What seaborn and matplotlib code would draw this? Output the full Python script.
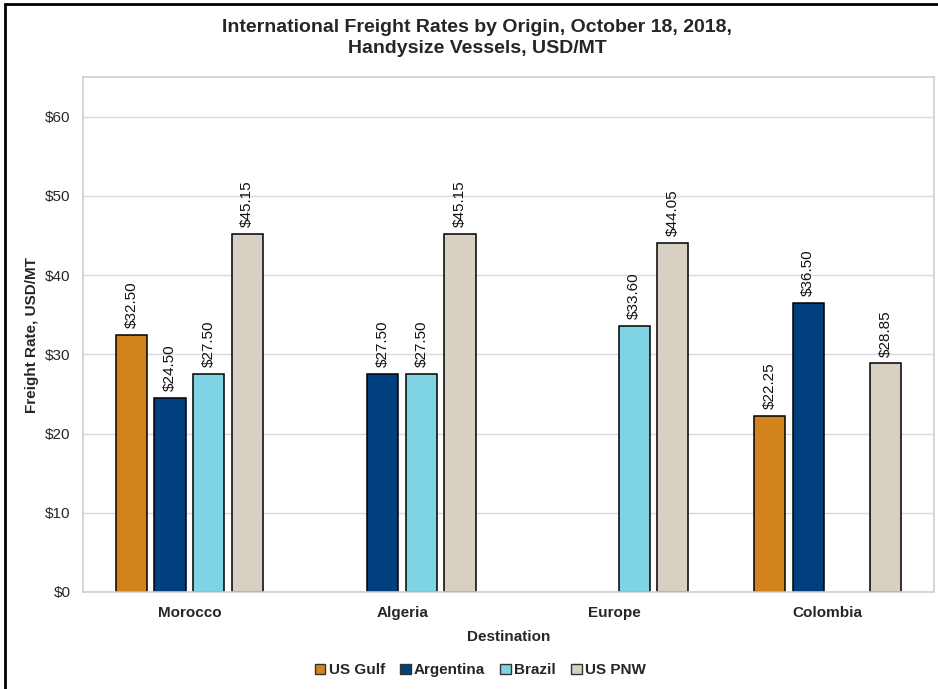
import numpy as np
import pandas as pd
import seaborn as sns
import matplotlib.pyplot as plt
from matplotlib.lines import Line2D

destinations = ["Morocco", "Algeria", "Europe", "Colombia"]
origins = ["US Gulf", "Argentina", "Brazil", "US PNW"]
us_gulf = [32.50, np.nan, np.nan, 22.25]
argentina = [24.50, 27.50, np.nan, 36.50]
brazil = [27.50, 27.50, 33.60, np.nan]
us_pnw = [45.15, 45.15, 44.05, 28.85]
colors = ["#D3831D", "#00407F", "#7ED3E4", "#D8D0C2"]

rows = []
for origin, vals in zip(origins, [us_gulf, argentina, brazil, us_pnw]):
    for dest, v in zip(destinations, vals):
        rows.append({"Destination": dest, "Origin": origin, "Rate": v})
df = pd.DataFrame(rows)

sns.set_style("white")
plt.rcParams["font.family"] = ["Liberation Sans", "DejaVu Sans"]

fig = plt.figure(figsize=(9.38, 6.89), dpi=100)
ax = fig.add_axes([0.0885, 0.1408, 0.9072, 0.7472])

sns.barplot(data=df, x="Destination", y="Rate", hue="Origin", order=destinations,
            hue_order=origins, palette=colors, saturation=1, width=0.725, gap=0.19,
            edgecolor="black", linewidth=1.1, ax=ax, legend=True)

for cont in ax.containers:
    ax.bar_label(cont, fmt="${:.2f}", rotation=90, padding=5, fontsize=11, color="#111111")

ax.set_ylim(0, 65)
ax.set_xlim(-0.5, 3.5)
ax.set_yticks(range(0, 61, 10))
ax.set_yticklabels([f"${v}" for v in range(0, 61, 10)], fontsize=11)
ax.tick_params(axis="y", length=0, pad=9)
ax.tick_params(axis="x", length=0, pad=10)
for lab in ax.get_xticklabels():
    lab.set_fontweight("bold")
    lab.set_fontsize(11)
ax.yaxis.grid(True, color="#D9D9D9", linewidth=1)
ax.set_axisbelow(True)
for side in ["top", "right", "left", "bottom"]:
    ax.spines[side].set_color("#D0D0D0")
    ax.spines[side].set_linewidth(1.2)

ax.set_xlabel("Destination", fontsize=11, fontweight="bold", labelpad=7)
ax.set_ylabel("Freight Rate, USD/MT", fontsize=11, fontweight="bold", labelpad=4)

ax.get_legend().remove()
handles = [plt.Rectangle((0, 0), 1, 1, facecolor=c, edgecolor="#333333", linewidth=1) for c in colors]
fig.legend(handles, origins, loc="center", bbox_to_anchor=(0.512, 0.027), ncol=4,
           frameon=False, prop={"weight": "bold", "size": 11}, handlelength=0.7,
           handleheight=0.7, handletextpad=0.2, columnspacing=1.0)

fig.text(0.509, 0.945, "International Freight Rates by Origin, October 18, 2018,\nHandysize Vessels, USD/MT",
         ha="center", va="center", fontsize=14, fontweight="bold", linespacing=1.25)

fig.add_artist(Line2D([0.0053, 0.0053], [0, 0.994], color="black", linewidth=2, transform=fig.transFigure))
fig.add_artist(Line2D([0.0053, 1.0], [0.994, 0.994], color="black", linewidth=2, transform=fig.transFigure))

fig.savefig("out.png", dpi=100)
